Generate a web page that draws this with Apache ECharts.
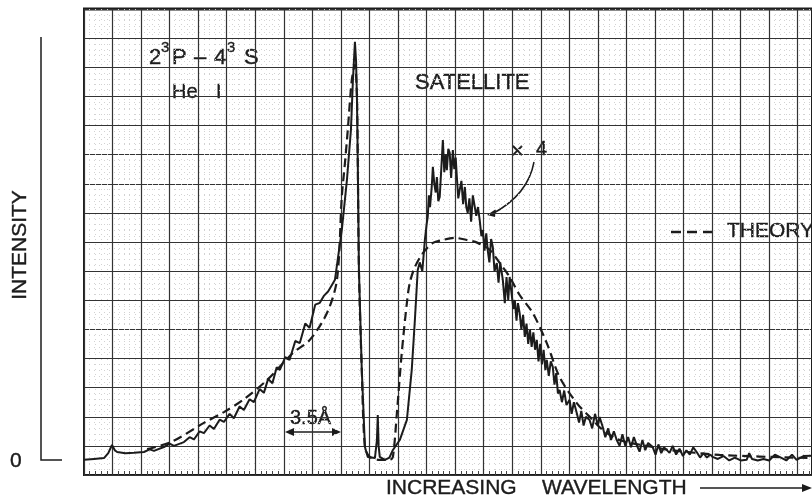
<!DOCTYPE html>
<html>
<head>
<meta charset="utf-8">
<script src="https://cdn.jsdelivr.net/npm/echarts@6/dist/echarts.min.js"></script>
<style>
  html, body { margin: 0; padding: 0; background: #fff; }
  #chart { width: 812px; height: 502px; }
</style>
</head>
<body>
<div id="chart"></div>
<script>
// grid units: x = chart-paper columns (increasing wavelength), y = chart-paper rows (intensity)
var expX = [0, 0.35, 0.7, 0.85, 0.98, 1.08, 1.16, 1.45, 1.75, 2.1, 2.3, 2.45, 2.8, 3.0, 3.15, 3.5, 3.7, 3.85, 4.05, 4.2, 4.4, 4.55, 4.75, 4.9, 5.1, 5.25, 5.45, 5.6, 5.8, 5.95, 6.15, 6.3, 6.45, 6.6, 6.75, 6.86, 7.05, 7.2, 7.4, 7.56, 7.75, 7.9, 8.1, 8.26, 8.4, 8.55, 8.7, 8.79,
    9.03, 9.21, 9.35, 9.42, 9.49, 9.53, 9.56, 9.59, 9.63, 9.73, 9.84, 9.94, 10.19, 10.26, 10.29, 10.32, 10.36, 10.54, 10.7, 10.82, 11.06, 11.31, 11.48, 11.59, 11.69,
    11.76, 11.85, 11.94, 12.0, 12.04, 12.08, 12.12, 12.18, 12.22, 12.27, 12.32, 12.36, 12.41, 12.46, 12.52, 12.57, 12.62, 12.67, 12.71, 12.76, 12.81, 12.86, 12.92, 12.97, 13.02, 13.06, 13.11, 13.16, 13.22, 13.28, 13.34, 13.39, 13.44, 13.5, 13.56, 13.62, 13.69, 13.74, 13.8, 13.86, 13.92, 13.97, 14.03, 14.09, 14.14, 14.2, 14.26, 14.32, 14.38, 14.46, 14.52, 14.58, 14.67, 14.74, 14.8, 14.86, 14.91, 14.98, 15.04, 15.09, 15.15, 15.2, 15.26, 15.32, 15.38, 15.44, 15.5, 15.56, 15.62, 15.68, 15.74, 15.8, 15.86, 15.92, 15.98, 16.04, 16.1, 16.16, 16.21, 16.28, 16.35, 16.42, 16.48, 16.54, 16.6, 16.66, 16.74, 16.82, 16.9, 17.01, 17.08, 17.16, 17.26, 17.34, 17.42, 17.5, 17.58, 17.71, 17.8, 17.9, 18.0, 18.06, 18.17, 18.26, 18.36, 18.46, 18.56, 18.66, 18.76, 18.86, 18.96, 19.06, 19.16, 19.26, 19.36, 19.46, 19.56, 19.66, 19.76, 19.92, 20.02, 20.12, 20.22, 20.32, 20.51, 20.62, 20.74, 20.86, 20.98, 21.1, 21.22, 21.34, 21.46, 21.58, 21.7, 21.82, 21.94, 22.02, 22.2, 22.4, 22.6, 22.8, 23.0, 23.21, 23.3, 23.4, 23.6, 23.8, 24.0, 24.2, 24.36, 24.6, 24.8, 24.96, 25.2, 25.5];
var expY = [0.52, 0.55, 0.58, 0.75, 1.03, 0.85, 0.79, 0.75, 0.76, 0.79, 0.88, 0.83, 0.96, 1.08, 1.0, 1.13, 1.3, 1.22, 1.5, 1.44, 1.7, 1.58, 1.9, 1.82, 2.1, 1.95, 2.35, 2.23, 2.6, 2.5, 2.95, 2.82, 3.3, 3.15, 3.7, 3.61, 4.05, 3.95, 4.6, 4.53, 5.2, 5.05, 5.85, 5.91, 6.15, 6.3, 6.55, 6.7,
    8.41, 10.13, 11.85, 13.56, 14.87, 14.2, 12.98, 10.71, 7.04, 3.61, 0.96, 0.62, 0.58, 1.2, 2.06, 1.0, 0.62, 0.52, 0.6, 0.86, 1.2, 1.89, 3.61, 5.32, 7.04,
    7.3, 7.0, 8.07, 8.6, 8.86, 9.6, 9.2, 9.89, 10.58, 10.0, 9.7, 10.23, 9.4, 9.55, 10.6, 11.5, 10.4, 11.0, 10.47, 11.2, 11.06, 10.2, 11.16, 10.5, 10.9, 10.23, 9.5, 9.79, 10.1, 9.3, 9.89, 9.2, 9.0, 9.5, 8.7, 9.6, 9.55, 8.9, 9.2, 8.76, 8.2, 8.41, 7.7, 8.3, 7.73, 7.3, 8.1, 7.83, 7.0, 7.28, 6.6, 7.3, 6.7, 5.9, 6.8, 6.0, 6.8, 6.2, 5.7, 6.01, 5.3, 5.9, 5.56, 5.0, 5.5, 4.74, 5.2, 4.5, 5.0, 4.4, 4.9, 4.3, 4.64, 3.9, 4.5, 3.8, 4.3, 3.6, 3.95, 3.4, 3.9, 3.71, 3.1, 3.5, 2.8, 2.92, 2.5, 2.9, 2.4, 2.58, 2.1, 2.5, 2.13, 1.8, 2.2, 1.7, 2.0, 1.89, 1.6, 2.1, 1.7, 1.99, 1.65, 1.3, 1.6, 1.2, 1.5, 1.2, 1.0, 1.4, 1.0, 1.3, 0.95, 1.3, 1.03, 0.8, 1.2, 0.85, 1.1, 0.96, 0.7, 1.05, 0.75, 0.95, 0.76, 1.0, 0.7, 0.9, 0.65, 0.85, 0.7, 0.95, 0.79, 0.6, 0.75, 0.6, 0.7, 0.62, 0.55, 0.65, 0.5, 0.6, 0.5, 0.52, 0.75, 0.55, 0.5, 0.55, 0.5, 0.7, 0.62, 0.5, 0.7, 0.52, 0.65, 0.66];

var theoX = [2.21, 3.05, 4.2, 4.9, 5.6, 6.41, 7.32, 7.91, 8.51, 8.86, 9.03, 9.14, 9.24, 9.38, 9.49, 9.56, 9.59, 9.63, 9.73, 9.84, 10.01, 10.36, 10.71, 10.82, 10.96, 11.13, 11.31, 11.41, 11.59, 11.87, 12.22, 12.57, 12.99, 13.41, 13.79, 14.21, 14.56, 14.91, 15.26, 15.72, 16.21, 16.66, 17.26, 17.82, 18.17, 18.76, 19.92, 20.51, 22.26, 25.5];
var theoY = [0.89, 1.13, 1.79, 2.16, 2.6, 3.26, 4.19, 4.64, 5.56, 6.7, 9.55, 10.71, 11.85, 13.56, 14.08, 12.98, 10.71, 7.04, 3.61, 0.96, 0.62, 0.52, 0.52, 0.62, 2.13, 4.19, 5.91, 6.59, 7.14, 7.62, 7.97, 8.07, 8.14, 8.07, 7.97, 7.73, 7.28, 6.8, 6.18, 5.56, 4.53, 3.36, 2.47, 1.89, 1.55, 1.2, 0.96, 0.86, 0.69, 0.58];

function pairs(xs, ys) {
    var out = [];
    for (var i = 0; i < xs.length; i++) out.push([xs[i], ys[i]]);
    return out;
}

var ink = '#1c1c1c';
var font = 'Liberation Sans, Arial, sans-serif';

function label(text, x, y, size, rotation) {
    return {
        type: 'text', x: x, y: y, rotation: rotation || 0,
        style: {
            text: text, font: (size || 20) + 'px ' + font, fill: ink,
            stroke: ink, lineWidth: 0.4,
            align: rotation ? 'center' : 'left', verticalAlign: 'middle'
        }
    };
}

var chart = echarts.init(document.getElementById('chart'));
chart.setOption({
    animation: false,
    backgroundColor: '#fff',
    grid: { left: 84, top: 9, right: 0, bottom: 27, show: true, borderColor: ink, borderWidth: 2 },
    xAxis: {
        type: 'value', min: 0, max: 25.5, interval: 1,
        axisLine: { show: false },
        axisTick: { show: false, inside: true },
        axisLabel: { show: false },
        splitLine: { lineStyle: { color: '#333', width: 1.2 } },
        minorTick: { show: true, splitNumber: 5, length: 4, lineStyle: { color: '#444' } },
        minorSplitLine: { show: true, lineStyle: { color: '#d2d2d2', type: [1, 4] } }
    },
    yAxis: {
        type: 'value', min: 0, max: 16, interval: 1,
        axisLine: { show: false },
        axisTick: { show: false },
        axisLabel: { show: false },
        splitLine: { lineStyle: { color: '#333', width: 1.2 } },
        minorTick: { show: false, splitNumber: 5 },
        minorSplitLine: { show: true, lineStyle: { color: '#d2d2d2', type: [1, 4] } }
    },
    series: [
        {
            name: 'experiment', type: 'line', showSymbol: false,
            lineStyle: { color: ink, width: 2 },
            data: pairs(expX, expY)
        },
        {
            name: 'theory', type: 'line', showSymbol: false, smooth: 0.3,
            lineStyle: { color: ink, width: 2.2, type: [9, 5] },
            data: pairs(theoX, theoY)
        }
    ],
    graphic: [
        // heavy top edge of the chart paper
        { type: 'line', shape: { x1: 83, y1: 9, x2: 812, y2: 9 }, style: { stroke: ink, lineWidth: 3 } },
        // intensity axis bracket
        { type: 'polyline', shape: { points: [[41, 37], [41, 460], [62, 460]] }, style: { stroke: ink, lineWidth: 1.5, fill: null } },
        label('0', 10, 461, 21),
        label('INTENSITY', 20, 245, 21, Math.PI / 2),
        // transition label
        label('2', 149, 58, 22),
        label('3', 161, 48, 15),
        label('P', 172, 58, 22),
        label('–', 194, 58, 22),
        label('4', 214, 58, 22),
        label('3', 227, 48, 15),
        label('S', 244, 58, 22),
        label('He', 172, 92, 20),
        label('I', 216, 92, 20),
        label('SATELLITE', 415, 83, 22),
        label('×', 511, 152, 22),
        label('4', 536, 149, 20),
        { type: 'bezierCurve', shape: { x1: 534, y1: 162, cpx1: 528, cpy1: 195, x2: 492, y2: 214 }, style: { stroke: ink, lineWidth: 1.5, fill: null } },
        { type: 'polygon', shape: { points: [[487, 215], [496, 209], [495, 217]] }, style: { fill: ink } },
        // theory legend
        { type: 'line', shape: { x1: 671, y1: 232, x2: 713, y2: 232 }, style: { stroke: ink, lineWidth: 2.5, lineDash: [10, 6] } },
        label('THEORY', 727, 231, 21),
        // 3.5 Å scale bar
        label('3.5Å', 290, 418, 20),
        { type: 'line', shape: { x1: 290, y1: 432, x2: 337, y2: 432 }, style: { stroke: ink, lineWidth: 1.5 } },
        { type: 'polygon', shape: { points: [[285, 432], [294, 428], [294, 436]] }, style: { fill: ink } },
        { type: 'polygon', shape: { points: [[341, 432], [332, 428], [332, 436]] }, style: { fill: ink } },
        // wavelength axis label
        label('INCREASING', 386, 488, 21),
        label('WAVELENGTH', 542, 488, 21),
        { type: 'line', shape: { x1: 700, y1: 488, x2: 804, y2: 488 }, style: { stroke: ink, lineWidth: 1.5 } },
        { type: 'polygon', shape: { points: [[812, 488], [802, 484], [802, 492]] }, style: { fill: ink } }
    ]
});
</script>
</body>
</html>
